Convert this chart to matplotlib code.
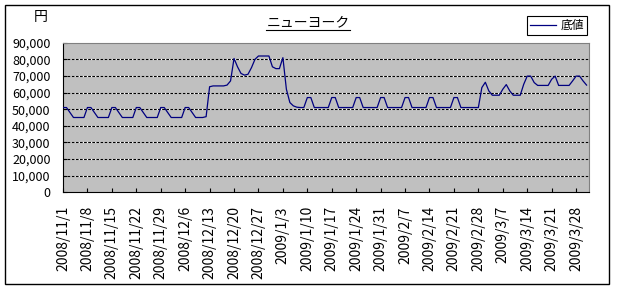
import numpy as np
import pandas as pd
import matplotlib.pyplot as plt
from matplotlib.lines import Line2D
from matplotlib.patches import Rectangle
from matplotlib.ticker import FuncFormatter

plt.rcParams['font.family'] = ['Noto Sans CJK JP', 'DejaVu Sans']

# 日次データ 2008/11/1 - 2009/3/31
start_date = '2008-11-01'
end_date = '2009-03-31'

# 底値 (円)
bottom_price = [
    # 2008/11/1 - 12/12
    51000, 51000, 48000, 45000, 45000, 45000, 45000,
    51000, 51000, 48000, 45000, 45000, 45000, 45000,
    51000, 51000, 48000, 45000, 45000, 45000, 45000,
    51000, 51000, 48000, 45000, 45000, 45000, 45000,
    51000, 51000, 48000, 45000, 45000, 45000, 45000,
    51000, 51000, 48000, 45000, 45000, 45000, 45500,
    # 12/13 - 1/9
    63500, 64000, 64000, 64000, 64000, 64500, 67000,
    80500, 75500, 71500, 70500, 71000, 75000, 80000,
    82000, 82000, 82000, 82000, 75500, 74400, 74400,
    81000, 62000, 54000, 52000, 51200, 51000, 51000,
    # 1/10 - 2/27
    57000, 57000, 51000, 51000, 51000, 51000, 51000,
    57000, 57000, 51000, 51000, 51000, 51000, 51000,
    57000, 57000, 51000, 51000, 51000, 51000, 51000,
    57000, 57000, 51000, 51000, 51000, 51000, 51000,
    57000, 57000, 51000, 51000, 51000, 51000, 51000,
    57000, 57000, 51000, 51000, 51000, 51000, 51000,
    57000, 57000, 51000, 51000, 51000, 51000, 51000,
    # 2/28 - 3/31
    51000, 63000, 66200, 61000, 58400, 58400, 58400,
    62000, 64800, 61000, 58400, 58400, 58400, 65000,
    69900, 69900, 66000, 64300, 64300, 64300, 64300,
    68000, 69900, 64300, 64300, 64300, 64300, 67000,
    69900, 69900, 67000, 64500,
]

y_ticks = [0, 10000, 20000, 30000, 40000, 50000, 60000, 70000, 80000, 90000]

dates = pd.date_range(start_date, end_date, freq='D')
x = np.arange(len(dates))
tick_pos = x[::7]
tick_labels = [f'{d.year}/{d.month}/{d.day}' for d in dates[::7]]

W, H = 617, 290
fig = plt.figure(figsize=(W / 100, H / 100), dpi=100)
fig.patch.set_facecolor('white')

# 外枠
fig.patches.append(Rectangle((5 / W, 1 - 284 / H), 604 / W, 279 / H,
                             transform=fig.transFigure, fill=False,
                             edgecolor='black', linewidth=1.0))

ax = fig.add_axes([63 / W, 1 - 192.3 / H, (589 - 63) / W, (192.3 - 42.7) / H])
ax.set_facecolor('#c0c0c0')

for v in y_ticks[1:-1]:
    ax.axhline(v, color='white', linewidth=0.8, zorder=1)
    ax.axhline(v, color='black', linewidth=0.8, linestyle=(0, (2.5, 1.2)), zorder=1.1)

ax.plot(x, bottom_price, color='#000080', linewidth=0.9, label='底値', zorder=3)

ax.set_xlim(0, 150.7)
ax.set_ylim(0, 90000)
ax.set_yticks(y_ticks)
ax.yaxis.set_major_formatter(FuncFormatter(lambda v, p: f'{int(v):,}'))
ax.set_xticks(tick_pos)
ax.set_xticklabels(tick_labels, rotation=90)
ax.tick_params(axis='both', direction='in', length=3, width=0.8)
ax.tick_params(axis='y', labelsize=9, pad=9)
ax.tick_params(axis='x', labelsize=10, pad=10)

for s in ['top', 'right']:
    ax.spines[s].set_color('#808080')
for s in ['left', 'bottom']:
    ax.spines[s].set_color('black')

fig.text(41 / W, 1 - 17 / H, '円', ha='center', va='center', fontsize=10)
title = fig.text(308 / W, 1 - 22 / H, 'ニューヨーク', ha='center', va='center', fontsize=10)

leg = fig.legend(loc='upper right', bbox_to_anchor=(587 / W, 1 - 16 / H),
                 fontsize=8.5, frameon=True, fancybox=False, framealpha=1,
                 edgecolor='black', handlelength=2.2, handletextpad=0.4,
                 borderpad=0.25, borderaxespad=0)
leg.get_frame().set_linewidth(0.8)

# タイトルの下線
fig.canvas.draw()
bb = title.get_window_extent()
fig.lines.append(Line2D([bb.x0 / W, bb.x1 / W], [(bb.y0 - 1) / H, (bb.y0 - 1) / H],
                        transform=fig.transFigure, color='black', linewidth=0.8))

fig.savefig('out.png', dpi=100)
